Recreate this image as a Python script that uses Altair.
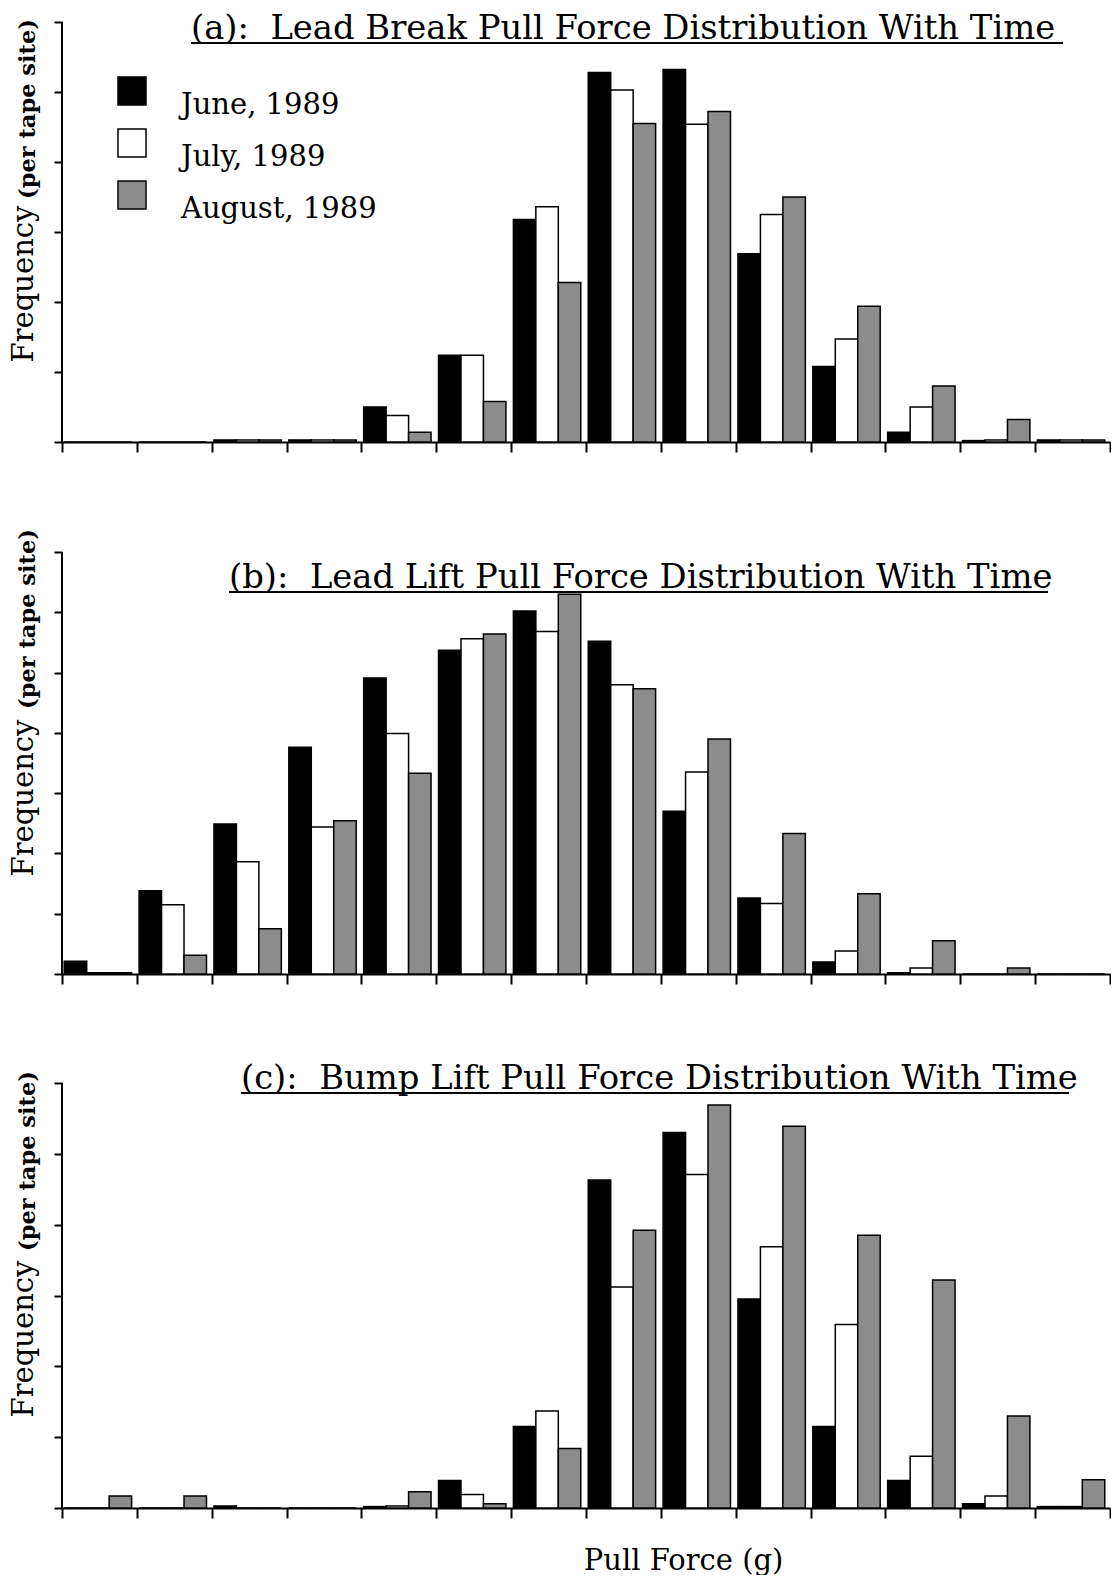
import altair as alt
import pandas as pd

FONT = "DejaVu Serif"
SERIES = ["June, 1989", "July, 1989", "August, 1989"]
FILLS = ["#000000", "#ffffff", "#8c8c8c"]
N_BINS = 14

# (a) Lead Break
june_a = [0, 0, 0.03, 0.03, 0.50, 1.24, 3.18, 5.28, 5.32, 2.69, 1.08, 0.14, 0.02, 0.03]
july_a = [0, 0, 0.03, 0.03, 0.38, 1.24, 3.36, 5.03, 4.54, 3.25, 1.47, 0.50, 0.03, 0.03]
aug_a = [0, 0, 0.03, 0.03, 0.14, 0.58, 2.28, 4.55, 4.72, 3.50, 1.94, 0.80, 0.32, 0.03]

# (b) Lead Lift
june_b = [0.21, 1.38, 2.49, 3.76, 4.91, 5.37, 6.02, 5.52, 2.70, 1.26, 0.20, 0.02, 0, 0]
july_b = [0.02, 1.15, 1.86, 2.44, 3.99, 5.56, 5.68, 4.80, 3.35, 1.17, 0.38, 0.10, 0, 0]
aug_b = [0.02, 0.31, 0.75, 2.54, 3.33, 5.64, 6.30, 4.73, 3.90, 2.33, 1.33, 0.55, 0.10, 0]

# (c) Bump Lift
june_c = [0, 0, 0.03, 0, 0.02, 0.39, 1.15, 4.63, 5.30, 2.95, 1.15, 0.39, 0.06, 0.02]
july_c = [0, 0, 0, 0, 0.03, 0.19, 1.37, 3.12, 4.71, 3.69, 2.59, 0.73, 0.17, 0.02]
aug_c = [0.17, 0.17, 0, 0, 0.23, 0.06, 0.84, 3.92, 5.69, 5.39, 3.85, 3.22, 1.30, 0.40]

TITLES = [
    "(a):\u00a0 Lead Break Pull Force Distribution With Time",
    "(b):\u00a0 Lead Lift Pull Force Distribution With Time",
    "(c):\u00a0 Bump Lift Pull Force Distribution With Time",
]
Y_LABEL = "Frequency"
Y_UNIT = "(per tape site)"
X_LABEL = "Pull Force (g)"

W = 1048


def make_df(vals):
    rows = []
    for k, (s, v) in enumerate(zip(SERIES, vals)):
        for b, y in enumerate(v):
            rows.append({"bin": b, "series": s, "k": k, "value": y})
    return pd.DataFrame(rows)


def panel(vals, title, ytop, ydom, height, tx, ty, tend, fy, py, legend, xtitle):
    df = make_df(vals)
    if xtitle:
        x_axis = alt.Axis(values=list(range(N_BINS + 1)), labels=False, grid=False,
                          tickSize=10, tickWidth=2, tickColor="black",
                          domainColor="black", domainWidth=2,
                          title=X_LABEL, titleFont=FONT, titleFontSize=29,
                          titleFontWeight="normal", titleColor="black",
                          titleX=621, titleY=61, titleBaseline="alphabetic",
                          titleAlign="center")
    else:
        x_axis = alt.Axis(values=list(range(N_BINS + 1)), labels=False, grid=False,
                          tickSize=10, tickWidth=2, tickColor="black",
                          domainColor="black", domainWidth=2, title=None)
    y_axis = alt.Axis(values=list(range(ytop + 1)), labels=False, grid=False,
                      domain=False, tickSize=8, tickWidth=2, tickColor="black",
                      title=None)
    if legend:
        leg = alt.Legend(orient="none", legendX=55, legendY=72, title=None,
                         symbolType="square", symbolSize=784,
                         symbolStrokeColor="black", symbolStrokeWidth=1.5,
                         symbolOpacity=1, labelFont=FONT, labelFontSize=29,
                         labelColor="black", labelOffset=34, labelLimit=400,
                         rowPadding=6, padding=0, labelBaseline="top")
    else:
        leg = None
    yscale = alt.Scale(domain=[0, ydom], nice=False)
    bars = alt.Chart(df).transform_calculate(
        x0="datum.bin + 0.03 + datum.k * 0.3",
        x1="datum.bin + 0.33 + datum.k * 0.3",
    ).mark_bar(stroke="black", strokeWidth=1.5).encode(
        x=alt.X("x0:Q", scale=alt.Scale(domain=[0, N_BINS], nice=False, zero=False), axis=x_axis),
        x2="x1:Q",
        y=alt.Y("value:Q", scale=yscale, axis=y_axis),
        y2=alt.Y2Datum(0),
        fill=alt.Fill("series:N", scale=alt.Scale(domain=SERIES, range=FILLS), legend=leg),
    )
    yline = alt.Chart(pd.DataFrame({"v": [0]})).mark_rule(color="black", strokeWidth=2).encode(
        x=alt.value(0),
        y=alt.YDatum(0, scale=yscale, axis=y_axis),
        y2=alt.Y2Datum(ytop),
    )
    tdf = pd.DataFrame({"t": [title]})
    ttext = alt.Chart(tdf).mark_text(font=FONT, fontSize=33.8, align="left",
                                     baseline="alphabetic", color="black").encode(
        text="t:N", x=alt.value(tx), y=alt.value(ty))
    tline = alt.Chart(tdf).mark_rule(color="black", strokeWidth=2).encode(
        x=alt.value(tx), x2=alt.value(tend), y=alt.value(ty + 4))
    fdf = pd.DataFrame({"t": [Y_LABEL]})
    ftext = alt.Chart(fdf).mark_text(font=FONT, fontSize=29, angle=270, align="center",
                                     baseline="alphabetic", color="black").encode(
        text="t:N", x=alt.value(-29), y=alt.value(fy))
    pdf = pd.DataFrame({"t": [Y_UNIT]})
    ptext = alt.Chart(pdf).mark_text(font=FONT, fontSize=22.5, fontWeight="bold", angle=270,
                                     align="center", baseline="alphabetic", color="black").encode(
        text="t:N", x=alt.value(-27), y=alt.value(py))
    return alt.layer(bars, yline, ttext, tline, ftext, ptext).properties(width=W, height=height)


pa = panel([june_a, july_a, aug_a], TITLES[0], 6, 438 / 70.0, 438, 129, 35, 1001, 280, 105, True, False)
pb = panel([june_b, july_b, aug_b], TITLES[1], 7, 456 / (422 / 7.0), 456, 167, 70, 986, 280, 101, False, False)
pc = panel([june_c, july_c, aug_c], TITLES[2], 6, 458 / (425 / 6.0), 458, 179, 39, 1007, 289, 111, False, True)

chart = alt.vconcat(pa, pb, pc, spacing=65).resolve_scale(fill="independent").properties(
    padding={"left": 10, "top": 4, "right": 0, "bottom": 0}
).configure_view(strokeWidth=0)

chart.save("out.html", embed_options={"renderer": "svg", "actions": False})
